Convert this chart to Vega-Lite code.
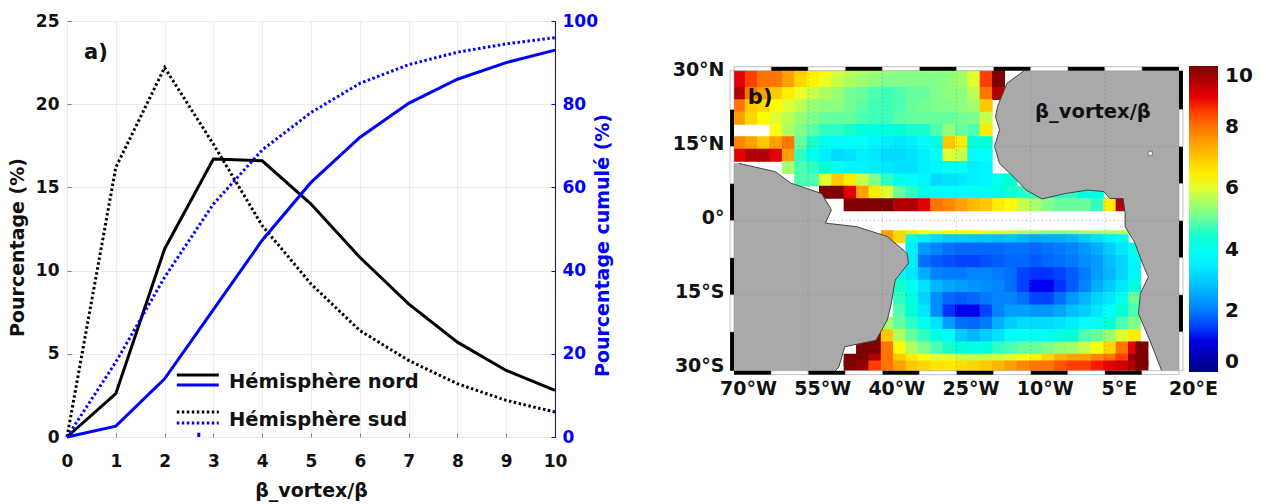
{"$schema":"https://vega.github.io/schema/vega-lite/v6.json","padding":{"left":7,"top":11,"right":0,"bottom":8},"background":"white","spacing":59,"config":{"font":"DejaVu Sans","view":{"stroke":null},"axis":{"labelFont":"DejaVu Sans","titleFont":"DejaVu Sans","labelFontWeight":"bold","titleFontWeight":"bold","labelFontSize":17,"titleFontSize":19,"labelColor":"#111","titleColor":"#111"}},
"datasets":{"lines":[
{"x":0,"n":0,"s":0,"cn":0,"cs":0},{"x":1,"n":2.6,"s":16.2,"cn":2.6,"cs":18},{"x":2,"n":11.3,"s":22.2,"cn":14,"cs":38.4},{"x":3,"n":16.7,"s":17.6,"cn":30.6,"cs":56},{"x":4,"n":16.6,"s":12.7,"cn":47.3,"cs":69},{"x":5,"n":14,"s":9.2,"cn":61.2,"cs":78},{"x":6,"n":10.8,"s":6.4,"cn":72,"cs":85},{"x":7,"n":8,"s":4.6,"cn":80.2,"cs":89.5},{"x":8,"n":5.7,"s":3.2,"cn":86,"cs":92.5},{"x":9,"n":4,"s":2.2,"cn":90,"cs":94.5},{"x":10,"n":2.8,"s":1.5,"cn":93,"cs":96}],
"coast":[{"lon":-11.25,"lat":30.4},{"lon":-14.8,"lat":27.8},{"lon":-16.7,"lat":23.1},{"lon":-17.1,"lat":21},{"lon":-16.3,"lat":18.4},{"lon":-17.3,"lat":15},{"lon":-16.3,"lat":11.6},{"lon":-13.2,"lat":8.6},{"lon":-10.9,"lat":6.2},{"lon":-7.7,"lat":4.4},{"lon":-3,"lat":5.5},{"lon":1.6,"lat":6.2},{"lon":4.8,"lat":5.9},{"lon":6,"lat":4.5},{"lon":8.7,"lat":4.5},{"lon":9.1,"lat":1.5},{"lon":9.1,"lat":-1.2},{"lon":11,"lat":-4.3},{"lon":12.6,"lat":-8.6},{"lon":13.8,"lat":-11.4},{"lon":12.2,"lat":-14.7},{"lon":11.8,"lat":-18.8},{"lon":14.1,"lat":-24.2},{"lon":16.5,"lat":-30.35}],
"afrN":[{"lon":-11.25,"lat":30.35,"e":20},{"lon":-14.8,"lat":27.8,"e":20},{"lon":-16.7,"lat":23.1,"e":20},{"lon":-17.1,"lat":21,"e":20},{"lon":-16.3,"lat":18.4,"e":20},{"lon":-17.3,"lat":15,"e":20},{"lon":-16.3,"lat":11.6,"e":20},{"lon":-13.2,"lat":8.6,"e":20},{"lon":-10.9,"lat":6.2,"e":20}],
"gulf":[{"lon":-10.9,"lat":6.2,"t":6.4},{"lon":-7.7,"lat":4.4,"t":6.4},{"lon":-3,"lat":5.5,"t":6.4},{"lon":1.6,"lat":6.2,"t":6.4},{"lon":4.8,"lat":5.9,"t":6.4},{"lon":6,"lat":4.5,"t":6.4},{"lon":8.7,"lat":4.5,"t":6.4}],
"afrS":[{"lon":8.7,"lat":6.4,"e":20},{"lon":8.7,"lat":4.5,"e":20},{"lon":9.1,"lat":1.5,"e":20},{"lon":9.1,"lat":-1.2,"e":20},{"lon":11,"lat":-4.3,"e":20},{"lon":12.6,"lat":-8.6,"e":20},{"lon":13.8,"lat":-11.4,"e":20},{"lon":12.2,"lat":-14.7,"e":20},{"lon":11.8,"lat":-18.8,"e":20},{"lon":14.1,"lat":-24.2,"e":20},{"lon":16.5,"lat":-30.35,"e":20}],
"sam":[{"lon":-69,"lat":11.6,"e":-70},{"lon":-61.6,"lat":9.9,"e":-70},{"lon":-58.5,"lat":7.6,"e":-70},{"lon":-52.3,"lat":5.5,"e":-70},{"lon":-50.3,"lat":2.2,"e":-70},{"lon":-51.5,"lat":-0.5,"e":-70},{"lon":-45.2,"lat":-1.2,"e":-70},{"lon":-39,"lat":-3.2,"e":-70},{"lon":-35,"lat":-6.6,"e":-70},{"lon":-34.7,"lat":-8.6,"e":-70},{"lon":-37.4,"lat":-12,"e":-70},{"lon":-38.2,"lat":-16.8,"e":-70},{"lon":-39,"lat":-20.1,"e":-70},{"lon":-41.3,"lat":-24.2,"e":-70},{"lon":-47.6,"lat":-25.5,"e":-70},{"lon":-48.8,"lat":-29.6,"e":-70},{"lon":-49.5,"lat":-30.35,"e":-70}],
"frame":[
{"k":"w","a":-70,"b":-62.5,"c":30.35,"d":31.15},{"k":"k","a":-62.5,"b":-55,"c":30.35,"d":31.15},{"k":"w","a":-55,"b":-47.5,"c":30.35,"d":31.15},{"k":"k","a":-47.5,"b":-40,"c":30.35,"d":31.15},{"k":"w","a":-40,"b":-32.5,"c":30.35,"d":31.15},{"k":"k","a":-32.5,"b":-25,"c":30.35,"d":31.15},{"k":"w","a":-25,"b":-17.5,"c":30.35,"d":31.15},{"k":"k","a":-17.5,"b":-10,"c":30.35,"d":31.15},{"k":"w","a":-10,"b":-2.5,"c":30.35,"d":31.15},{"k":"k","a":-2.5,"b":5,"c":30.35,"d":31.15},{"k":"w","a":5,"b":12.5,"c":30.35,"d":31.15},{"k":"k","a":12.5,"b":20,"c":30.35,"d":31.15},
{"k":"k","a":-70,"b":-62.5,"c":-31.15,"d":-30.35},{"k":"w","a":-62.5,"b":-55,"c":-31.15,"d":-30.35},{"k":"k","a":-55,"b":-47.5,"c":-31.15,"d":-30.35},{"k":"w","a":-47.5,"b":-40,"c":-31.15,"d":-30.35},{"k":"k","a":-40,"b":-32.5,"c":-31.15,"d":-30.35},{"k":"w","a":-32.5,"b":-25,"c":-31.15,"d":-30.35},{"k":"k","a":-25,"b":-17.5,"c":-31.15,"d":-30.35},{"k":"w","a":-17.5,"b":-10,"c":-31.15,"d":-30.35},{"k":"k","a":-10,"b":-2.5,"c":-31.15,"d":-30.35},{"k":"w","a":-2.5,"b":5,"c":-31.15,"d":-30.35},{"k":"k","a":5,"b":12.5,"c":-31.15,"d":-30.35},{"k":"w","a":12.5,"b":20,"c":-31.15,"d":-30.35},
{"k":"w","a":-70.8,"b":-70,"c":22.5,"d":30.35},{"k":"k","a":-70.8,"b":-70,"c":15,"d":22.5},{"k":"w","a":-70.8,"b":-70,"c":7.5,"d":15},{"k":"k","a":-70.8,"b":-70,"c":0,"d":7.5},{"k":"w","a":-70.8,"b":-70,"c":-7.5,"d":0},{"k":"k","a":-70.8,"b":-70,"c":-15,"d":-7.5},{"k":"w","a":-70.8,"b":-70,"c":-22.5,"d":-15},{"k":"k","a":-70.8,"b":-70,"c":-30.35,"d":-22.5},
{"k":"k","a":20,"b":20.8,"c":22.5,"d":30.35},{"k":"w","a":20,"b":20.8,"c":15,"d":22.5},{"k":"k","a":20,"b":20.8,"c":7.5,"d":15},{"k":"w","a":20,"b":20.8,"c":0,"d":7.5},{"k":"k","a":20,"b":20.8,"c":-7.5,"d":0},{"k":"w","a":20,"b":20.8,"c":-15,"d":-7.5},{"k":"k","a":20,"b":20.8,"c":-22.5,"d":-15},{"k":"w","a":20,"b":20.8,"c":-30.35,"d":-22.5}],
"heat":[
{"x":-69,"y":29.5,"v":9},{"x":-66.5,"y":29.5,"v":8.5},{"x":-64,"y":29.5,"v":8},{"x":-61.5,"y":29.5,"v":8},{"x":-59,"y":29.5,"v":7.5},{"x":-56.5,"y":29.5,"v":7},{"x":-54,"y":29.5,"v":6.5},{"x":-51.5,"y":29.5,"v":6.3},{"x":-49,"y":29.5,"v":6},{"x":-46.5,"y":29.5,"v":5.7},{"x":-44,"y":29.5,"v":5.6},{"x":-41.5,"y":29.5,"v":5.5},{"x":-39,"y":29.5,"v":5.4},{"x":-36.5,"y":29.5,"v":5.3},{"x":-34,"y":29.5,"v":5.3},{"x":-31.5,"y":29.5,"v":5.3},{"x":-29,"y":29.5,"v":5.3},{"x":-26.5,"y":29.5,"v":5.3},{"x":-24,"y":29.5,"v":5.5},{"x":-21.5,"y":29.5,"v":6},{"x":-19,"y":29.5,"v":8.5},{"x":-16.5,"y":29.5,"v":10},
{"x":-69,"y":28.25,"v":9},{"x":-66.5,"y":28.25,"v":8.5},{"x":-64,"y":28.25,"v":8},{"x":-61.5,"y":28.25,"v":8},{"x":-59,"y":28.25,"v":7.5},{"x":-56.5,"y":28.25,"v":6.8},{"x":-54,"y":28.25,"v":6.4},{"x":-51.5,"y":28.25,"v":6.1},{"x":-49,"y":28.25,"v":5.8},{"x":-46.5,"y":28.25,"v":5.6},{"x":-44,"y":28.25,"v":5.4},{"x":-41.5,"y":28.25,"v":5.3},{"x":-39,"y":28.25,"v":5.2},{"x":-36.5,"y":28.25,"v":5.2},{"x":-34,"y":28.25,"v":5.2},{"x":-31.5,"y":28.25,"v":5.2},{"x":-29,"y":28.25,"v":5.2},{"x":-26.5,"y":28.25,"v":5.3},{"x":-24,"y":28.25,"v":5.5},{"x":-21.5,"y":28.25,"v":6},{"x":-19,"y":28.25,"v":8.5},{"x":-16.5,"y":28.25,"v":10},
{"x":-69,"y":25.75,"v":9.5},{"x":-66.5,"y":25.75,"v":8},{"x":-64,"y":25.75,"v":7.5},{"x":-61.5,"y":25.75,"v":7},{"x":-59,"y":25.75,"v":6.5},{"x":-56.5,"y":25.75,"v":6.1},{"x":-54,"y":25.75,"v":5.8},{"x":-51.5,"y":25.75,"v":5.6},{"x":-49,"y":25.75,"v":5.4},{"x":-46.5,"y":25.75,"v":5.1},{"x":-44,"y":25.75,"v":5},{"x":-41.5,"y":25.75,"v":4.8},{"x":-39,"y":25.75,"v":4.7},{"x":-36.5,"y":25.75,"v":4.8},{"x":-34,"y":25.75,"v":5},{"x":-31.5,"y":25.75,"v":5},{"x":-29,"y":25.75,"v":5.2},{"x":-26.5,"y":25.75,"v":5.3},{"x":-24,"y":25.75,"v":5.3},{"x":-21.5,"y":25.75,"v":5.7},{"x":-19,"y":25.75,"v":8},{"x":-16.5,"y":25.75,"v":9.5},
{"x":-69,"y":23.25,"v":8},{"x":-66.5,"y":23.25,"v":7},{"x":-64,"y":23.25,"v":6.8},{"x":-61.5,"y":23.25,"v":6.3},{"x":-59,"y":23.25,"v":6},{"x":-56.5,"y":23.25,"v":5.7},{"x":-54,"y":23.25,"v":5.4},{"x":-51.5,"y":23.25,"v":5.3},{"x":-49,"y":23.25,"v":5.3},{"x":-46.5,"y":23.25,"v":5.1},{"x":-44,"y":23.25,"v":4.9},{"x":-41.5,"y":23.25,"v":4.7},{"x":-39,"y":23.25,"v":4.7},{"x":-36.5,"y":23.25,"v":4.8},{"x":-34,"y":23.25,"v":5},{"x":-31.5,"y":23.25,"v":5.1},{"x":-29,"y":23.25,"v":5.2},{"x":-26.5,"y":23.25,"v":5.2},{"x":-24,"y":23.25,"v":5.3},{"x":-21.5,"y":23.25,"v":5.5},{"x":-19,"y":23.25,"v":7},
{"x":-69,"y":20.75,"v":7.5},{"x":-66.5,"y":20.75,"v":6.8},{"x":-64,"y":20.75,"v":6.3},{"x":-61.5,"y":20.75,"v":6},{"x":-59,"y":20.75,"v":5.7},{"x":-56.5,"y":20.75,"v":5.4},{"x":-54,"y":20.75,"v":5.2},{"x":-51.5,"y":20.75,"v":5},{"x":-49,"y":20.75,"v":5},{"x":-46.5,"y":20.75,"v":5},{"x":-44,"y":20.75,"v":4.8},{"x":-41.5,"y":20.75,"v":4.7},{"x":-39,"y":20.75,"v":4.7},{"x":-36.5,"y":20.75,"v":4.9},{"x":-34,"y":20.75,"v":5},{"x":-31.5,"y":20.75,"v":5},{"x":-29,"y":20.75,"v":5},{"x":-26.5,"y":20.75,"v":5},{"x":-24,"y":20.75,"v":5.1},{"x":-21.5,"y":20.75,"v":5.2},{"x":-19,"y":20.75,"v":5.8},
{"x":-61.5,"y":18.25,"v":6.2},{"x":-59,"y":18.25,"v":5.6},{"x":-56.5,"y":18.25,"v":5.2},{"x":-54,"y":18.25,"v":4.9},{"x":-51.5,"y":18.25,"v":4.6},{"x":-49,"y":18.25,"v":4.6},{"x":-46.5,"y":18.25,"v":4.5},{"x":-44,"y":18.25,"v":4.3},{"x":-41.5,"y":18.25,"v":4.3},{"x":-39,"y":18.25,"v":4.3},{"x":-36.5,"y":18.25,"v":4.4},{"x":-34,"y":18.25,"v":4.5},{"x":-31.5,"y":18.25,"v":4.5},{"x":-29,"y":18.25,"v":4.8},{"x":-26.5,"y":18.25,"v":5.4},{"x":-24,"y":18.25,"v":5},{"x":-21.5,"y":18.25,"v":4.8},{"x":-19,"y":18.25,"v":6.5},
{"x":-69,"y":15.75,"v":7.8},{"x":-66.5,"y":15.75,"v":7.5},{"x":-64,"y":15.75,"v":7},{"x":-61.5,"y":15.75,"v":7.5},{"x":-59,"y":15.75,"v":8},{"x":-56.5,"y":15.75,"v":5},{"x":-54,"y":15.75,"v":4.5},{"x":-51.5,"y":15.75,"v":4},{"x":-49,"y":15.75,"v":3.7},{"x":-46.5,"y":15.75,"v":3.8},{"x":-44,"y":15.75,"v":3.8},{"x":-41.5,"y":15.75,"v":3.6},{"x":-39,"y":15.75,"v":3.5},{"x":-36.5,"y":15.75,"v":3.4},{"x":-34,"y":15.75,"v":3.5},{"x":-31.5,"y":15.75,"v":3.7},{"x":-29,"y":15.75,"v":4.2},{"x":-26.5,"y":15.75,"v":7},{"x":-24,"y":15.75,"v":6.5},{"x":-21.5,"y":15.75,"v":4.3},{"x":-19,"y":15.75,"v":4.3},
{"x":-69,"y":13.25,"v":9},{"x":-66.5,"y":13.25,"v":9.5},{"x":-64,"y":13.25,"v":9.5},{"x":-61.5,"y":13.25,"v":9},{"x":-59,"y":13.25,"v":7.5},{"x":-56.5,"y":13.25,"v":4.6},{"x":-54,"y":13.25,"v":4},{"x":-51.5,"y":13.25,"v":3.5},{"x":-49,"y":13.25,"v":3.2},{"x":-46.5,"y":13.25,"v":3.3},{"x":-44,"y":13.25,"v":3.5},{"x":-41.5,"y":13.25,"v":3.4},{"x":-39,"y":13.25,"v":3.2},{"x":-36.5,"y":13.25,"v":3.2},{"x":-34,"y":13.25,"v":3.3},{"x":-31.5,"y":13.25,"v":3.5},{"x":-29,"y":13.25,"v":3.8},{"x":-26.5,"y":13.25,"v":6},{"x":-24,"y":13.25,"v":5.8},{"x":-21.5,"y":13.25,"v":3.8},{"x":-19,"y":13.25,"v":3.8},
{"x":-59,"y":10.75,"v":5.5},{"x":-56.5,"y":10.75,"v":4.8},{"x":-54,"y":10.75,"v":4.6},{"x":-51.5,"y":10.75,"v":4.4},{"x":-49,"y":10.75,"v":4},{"x":-46.5,"y":10.75,"v":3.6},{"x":-44,"y":10.75,"v":3.6},{"x":-41.5,"y":10.75,"v":3.5},{"x":-39,"y":10.75,"v":3.4},{"x":-36.5,"y":10.75,"v":3.3},{"x":-34,"y":10.75,"v":3.3},{"x":-31.5,"y":10.75,"v":3.5},{"x":-29,"y":10.75,"v":3.6},{"x":-26.5,"y":10.75,"v":4},{"x":-24,"y":10.75,"v":3.9},{"x":-21.5,"y":10.75,"v":3.5},{"x":-19,"y":10.75,"v":3.6},
{"x":-56.5,"y":8.25,"v":4.8},{"x":-54,"y":8.25,"v":4.8},{"x":-51.5,"y":8.25,"v":6},{"x":-49,"y":8.25,"v":7},{"x":-46.5,"y":8.25,"v":6.5},{"x":-44,"y":8.25,"v":5.8},{"x":-41.5,"y":8.25,"v":5.2},{"x":-39,"y":8.25,"v":4.6},{"x":-36.5,"y":8.25,"v":4},{"x":-34,"y":8.25,"v":3.7},{"x":-31.5,"y":8.25,"v":3.6},{"x":-29,"y":8.25,"v":3.2},{"x":-26.5,"y":8.25,"v":3.3},{"x":-24,"y":8.25,"v":3.4},{"x":-21.5,"y":8.25,"v":3.5},{"x":-19,"y":8.25,"v":3.6},{"x":-16.5,"y":8.25,"v":4},{"x":-14,"y":8.25,"v":4.4},
{"x":-51.5,"y":5.75,"v":10},{"x":-49,"y":5.75,"v":10},{"x":-46.5,"y":5.75,"v":9},{"x":-44,"y":5.75,"v":7.5},{"x":-41.5,"y":5.75,"v":6.5},{"x":-39,"y":5.75,"v":6},{"x":-36.5,"y":5.75,"v":5},{"x":-34,"y":5.75,"v":4.6},{"x":-31.5,"y":5.75,"v":4.2},{"x":-29,"y":5.75,"v":4},{"x":-26.5,"y":5.75,"v":3.8},{"x":-24,"y":5.75,"v":3.8},{"x":-21.5,"y":5.75,"v":4},{"x":-19,"y":5.75,"v":4},{"x":-16.5,"y":5.75,"v":4.3},{"x":-14,"y":5.75,"v":4.5},{"x":-11.5,"y":5.75,"v":4.6},{"x":-9,"y":5.75,"v":4.6},{"x":-6.5,"y":5.75,"v":4.6},{"x":-4,"y":5.75,"v":4.6},{"x":-1.5,"y":5.75,"v":4.6},{"x":1,"y":5.75,"v":4.2},{"x":3.5,"y":5.75,"v":4.2},
{"x":-46.5,"y":3.25,"v":10},{"x":-44,"y":3.25,"v":10},{"x":-41.5,"y":3.25,"v":10},{"x":-39,"y":3.25,"v":10},{"x":-36.5,"y":3.25,"v":9.5},{"x":-34,"y":3.25,"v":9.5},{"x":-31.5,"y":3.25,"v":9},{"x":-29,"y":3.25,"v":8},{"x":-26.5,"y":3.25,"v":7.8},{"x":-24,"y":3.25,"v":7.5},{"x":-21.5,"y":3.25,"v":7.2},{"x":-19,"y":3.25,"v":7},{"x":-16.5,"y":3.25,"v":6.5},{"x":-14,"y":3.25,"v":6.3},{"x":-11.5,"y":3.25,"v":5.8},{"x":-9,"y":3.25,"v":5.5},{"x":-6.5,"y":3.25,"v":5.2},{"x":-4,"y":3.25,"v":5},{"x":-1.5,"y":3.25,"v":5},{"x":1,"y":3.25,"v":5},{"x":3.5,"y":3.25,"v":4.6},{"x":6,"y":3.25,"v":6.5},{"x":8.5,"y":3.25,"v":9.5},
{"x":-39,"y":-3.25,"v":7.5},{"x":-36.5,"y":-3.25,"v":6.8},{"x":-34,"y":-3.25,"v":6.5},{"x":-31.5,"y":-3.25,"v":6.2},{"x":-29,"y":-3.25,"v":6},{"x":-26.5,"y":-3.25,"v":6.4},{"x":-24,"y":-3.25,"v":6.3},{"x":-21.5,"y":-3.25,"v":6.3},{"x":-19,"y":-3.25,"v":6},{"x":-16.5,"y":-3.25,"v":6},{"x":-14,"y":-3.25,"v":5.8},{"x":-11.5,"y":-3.25,"v":5.6},{"x":-9,"y":-3.25,"v":5.5},{"x":-6.5,"y":-3.25,"v":5.3},{"x":-4,"y":-3.25,"v":5.3},{"x":-1.5,"y":-3.25,"v":5.3},{"x":1,"y":-3.25,"v":5.5},{"x":3.5,"y":-3.25,"v":5.5},{"x":6,"y":-3.25,"v":5.5},{"x":8.5,"y":-3.25,"v":5.6},
{"x":-34,"y":-4.05,"v":4},{"x":-31.5,"y":-4.05,"v":3.5},{"x":-29,"y":-4.05,"v":3.2},{"x":-26.5,"y":-4.05,"v":3},{"x":-24,"y":-4.05,"v":3},{"x":-21.5,"y":-4.05,"v":2.9},{"x":-19,"y":-4.05,"v":2.9},{"x":-16.5,"y":-4.05,"v":2.8},{"x":-14,"y":-4.05,"v":2.9},{"x":-11.5,"y":-4.05,"v":2.7},{"x":-9,"y":-4.05,"v":2.5},{"x":-6.5,"y":-4.05,"v":2.6},{"x":-4,"y":-4.05,"v":2.6},{"x":-1.5,"y":-4.05,"v":2.7},{"x":1,"y":-4.05,"v":3},{"x":3.5,"y":-4.05,"v":3.3},{"x":6,"y":-4.05,"v":3.6},{"x":8.5,"y":-4.05,"v":4},
{"x":-34,"y":-5.75,"v":3.5},{"x":-31.5,"y":-5.75,"v":2.3},{"x":-29,"y":-5.75,"v":2.1},{"x":-26.5,"y":-5.75,"v":1.9},{"x":-24,"y":-5.75,"v":1.8},{"x":-21.5,"y":-5.75,"v":1.8},{"x":-19,"y":-5.75,"v":1.8},{"x":-16.5,"y":-5.75,"v":1.8},{"x":-14,"y":-5.75,"v":1.9},{"x":-11.5,"y":-5.75,"v":1.9},{"x":-9,"y":-5.75,"v":1.8},{"x":-6.5,"y":-5.75,"v":1.9},{"x":-4,"y":-5.75,"v":2},{"x":-1.5,"y":-5.75,"v":2.1},{"x":1,"y":-5.75,"v":2.3},{"x":3.5,"y":-5.75,"v":2.6},{"x":6,"y":-5.75,"v":3},{"x":8.5,"y":-5.75,"v":3.4},{"x":11,"y":-5.75,"v":4},
{"x":-34,"y":-8.25,"v":3.5},{"x":-31.5,"y":-8.25,"v":1.9},{"x":-29,"y":-8.25,"v":1.7},{"x":-26.5,"y":-8.25,"v":1.6},{"x":-24,"y":-8.25,"v":1.5},{"x":-21.5,"y":-8.25,"v":1.5},{"x":-19,"y":-8.25,"v":1.6},{"x":-16.5,"y":-8.25,"v":1.7},{"x":-14,"y":-8.25,"v":1.8},{"x":-11.5,"y":-8.25,"v":1.8},{"x":-9,"y":-8.25,"v":1.7},{"x":-6.5,"y":-8.25,"v":1.8},{"x":-4,"y":-8.25,"v":1.9},{"x":-1.5,"y":-8.25,"v":2},{"x":1,"y":-8.25,"v":2.2},{"x":3.5,"y":-8.25,"v":2.4},{"x":6,"y":-8.25,"v":2.8},{"x":8.5,"y":-8.25,"v":3.1},{"x":11,"y":-8.25,"v":3.6},
{"x":-36.5,"y":-10.75,"v":4},{"x":-34,"y":-10.75,"v":3.4},{"x":-31.5,"y":-10.75,"v":2.6},{"x":-29,"y":-10.75,"v":2.1},{"x":-26.5,"y":-10.75,"v":2},{"x":-24,"y":-10.75,"v":2},{"x":-21.5,"y":-10.75,"v":2.1},{"x":-19,"y":-10.75,"v":2.1},{"x":-16.5,"y":-10.75,"v":2},{"x":-14,"y":-10.75,"v":1.9},{"x":-11.5,"y":-10.75,"v":1.5},{"x":-9,"y":-10.75,"v":1.4},{"x":-6.5,"y":-10.75,"v":1.4},{"x":-4,"y":-10.75,"v":1.5},{"x":-1.5,"y":-10.75,"v":1.7},{"x":1,"y":-10.75,"v":2},{"x":3.5,"y":-10.75,"v":2.4},{"x":6,"y":-10.75,"v":2.7},{"x":8.5,"y":-10.75,"v":3.1},{"x":11,"y":-10.75,"v":3.6},
{"x":-36.5,"y":-13.25,"v":4.5},{"x":-34,"y":-13.25,"v":4},{"x":-31.5,"y":-13.25,"v":3.3},{"x":-29,"y":-13.25,"v":2.7},{"x":-26.5,"y":-13.25,"v":2.5},{"x":-24,"y":-13.25,"v":2.4},{"x":-21.5,"y":-13.25,"v":2.3},{"x":-19,"y":-13.25,"v":2.2},{"x":-16.5,"y":-13.25,"v":2.1},{"x":-14,"y":-13.25,"v":1.9},{"x":-11.5,"y":-13.25,"v":1.5},{"x":-9,"y":-13.25,"v":1.2},{"x":-6.5,"y":-13.25,"v":1.1},{"x":-4,"y":-13.25,"v":1.4},{"x":-1.5,"y":-13.25,"v":1.7},{"x":1,"y":-13.25,"v":2.1},{"x":3.5,"y":-13.25,"v":2.6},{"x":6,"y":-13.25,"v":3},{"x":8.5,"y":-13.25,"v":3.4},{"x":11,"y":-13.25,"v":4.3},
{"x":-36.5,"y":-15.75,"v":4.6},{"x":-34,"y":-15.75,"v":4.2},{"x":-31.5,"y":-15.75,"v":3.1},{"x":-29,"y":-15.75,"v":2.2},{"x":-26.5,"y":-15.75,"v":1.8},{"x":-24,"y":-15.75,"v":1.7},{"x":-21.5,"y":-15.75,"v":1.8},{"x":-19,"y":-15.75,"v":2},{"x":-16.5,"y":-15.75,"v":2.1},{"x":-14,"y":-15.75,"v":2.1},{"x":-11.5,"y":-15.75,"v":1.9},{"x":-9,"y":-15.75,"v":1.5},{"x":-6.5,"y":-15.75,"v":1.5},{"x":-4,"y":-15.75,"v":1.9},{"x":-1.5,"y":-15.75,"v":2.3},{"x":1,"y":-15.75,"v":2.7},{"x":3.5,"y":-15.75,"v":3.1},{"x":6,"y":-15.75,"v":3.4},{"x":8.5,"y":-15.75,"v":4},{"x":11,"y":-15.75,"v":5},
{"x":-36.5,"y":-18.25,"v":4.8},{"x":-34,"y":-18.25,"v":4.4},{"x":-31.5,"y":-18.25,"v":3.4},{"x":-29,"y":-18.25,"v":2.2},{"x":-26.5,"y":-18.25,"v":1.4},{"x":-24,"y":-18.25,"v":1.1},{"x":-21.5,"y":-18.25,"v":1.1},{"x":-19,"y":-18.25,"v":1.5},{"x":-16.5,"y":-18.25,"v":2.1},{"x":-14,"y":-18.25,"v":2.4},{"x":-11.5,"y":-18.25,"v":2.4},{"x":-9,"y":-18.25,"v":2.3},{"x":-6.5,"y":-18.25,"v":2.3},{"x":-4,"y":-18.25,"v":2.5},{"x":-1.5,"y":-18.25,"v":2.8},{"x":1,"y":-18.25,"v":3},{"x":3.5,"y":-18.25,"v":3.4},{"x":6,"y":-18.25,"v":3.8},{"x":8.5,"y":-18.25,"v":4.4},{"x":11,"y":-18.25,"v":4.8},
{"x":-39,"y":-20.75,"v":5.5},{"x":-36.5,"y":-20.75,"v":5},{"x":-34,"y":-20.75,"v":4.6},{"x":-31.5,"y":-20.75,"v":4},{"x":-29,"y":-20.75,"v":3.3},{"x":-26.5,"y":-20.75,"v":2.4},{"x":-24,"y":-20.75,"v":1.9},{"x":-21.5,"y":-20.75,"v":1.8},{"x":-19,"y":-20.75,"v":2},{"x":-16.5,"y":-20.75,"v":2.6},{"x":-14,"y":-20.75,"v":3},{"x":-11.5,"y":-20.75,"v":3.2},{"x":-9,"y":-20.75,"v":3.2},{"x":-6.5,"y":-20.75,"v":3.2},{"x":-4,"y":-20.75,"v":3.3},{"x":-1.5,"y":-20.75,"v":3.5},{"x":1,"y":-20.75,"v":3.7},{"x":3.5,"y":-20.75,"v":4},{"x":6,"y":-20.75,"v":4.4},{"x":8.5,"y":-20.75,"v":4.8},{"x":11,"y":-20.75,"v":5.2},
{"x":-41.5,"y":-23.25,"v":10},{"x":-39,"y":-23.25,"v":7},{"x":-36.5,"y":-23.25,"v":5.6},{"x":-34,"y":-23.25,"v":5},{"x":-31.5,"y":-23.25,"v":4.6},{"x":-29,"y":-23.25,"v":4.2},{"x":-26.5,"y":-23.25,"v":3.7},{"x":-24,"y":-23.25,"v":3},{"x":-21.5,"y":-23.25,"v":2.7},{"x":-19,"y":-23.25,"v":3},{"x":-16.5,"y":-23.25,"v":3.3},{"x":-14,"y":-23.25,"v":3.7},{"x":-11.5,"y":-23.25,"v":3.9},{"x":-9,"y":-23.25,"v":4},{"x":-6.5,"y":-23.25,"v":4},{"x":-4,"y":-23.25,"v":4.2},{"x":-1.5,"y":-23.25,"v":4.4},{"x":1,"y":-23.25,"v":4.8},{"x":3.5,"y":-23.25,"v":5},{"x":6,"y":-23.25,"v":5.4},{"x":8.5,"y":-23.25,"v":6},{"x":11,"y":-23.25,"v":6.5},
{"x":-44,"y":-25.75,"v":10},{"x":-41.5,"y":-25.75,"v":10},{"x":-39,"y":-25.75,"v":8},{"x":-36.5,"y":-25.75,"v":6.3},{"x":-34,"y":-25.75,"v":5.6},{"x":-31.5,"y":-25.75,"v":5.2},{"x":-29,"y":-25.75,"v":4.8},{"x":-26.5,"y":-25.75,"v":4.5},{"x":-24,"y":-25.75,"v":4.3},{"x":-21.5,"y":-25.75,"v":4.2},{"x":-19,"y":-25.75,"v":4.3},{"x":-16.5,"y":-25.75,"v":4.6},{"x":-14,"y":-25.75,"v":4.8},{"x":-11.5,"y":-25.75,"v":5},{"x":-9,"y":-25.75,"v":5},{"x":-6.5,"y":-25.75,"v":5.2},{"x":-4,"y":-25.75,"v":5.4},{"x":-1.5,"y":-25.75,"v":5.5},{"x":1,"y":-25.75,"v":5.8},{"x":3.5,"y":-25.75,"v":6.2},{"x":6,"y":-25.75,"v":6.8},{"x":8.5,"y":-25.75,"v":8},{"x":11,"y":-25.75,"v":9},{"x":12.5,"y":-25.75,"v":10},
{"x":-46.5,"y":-28.25,"v":10},{"x":-44,"y":-28.25,"v":10},{"x":-41.5,"y":-28.25,"v":9.5},{"x":-39,"y":-28.25,"v":8},{"x":-36.5,"y":-28.25,"v":7},{"x":-34,"y":-28.25,"v":6.5},{"x":-31.5,"y":-28.25,"v":6.2},{"x":-29,"y":-28.25,"v":6},{"x":-26.5,"y":-28.25,"v":6},{"x":-24,"y":-28.25,"v":5.8},{"x":-21.5,"y":-28.25,"v":5.7},{"x":-19,"y":-28.25,"v":5.8},{"x":-16.5,"y":-28.25,"v":5.9},{"x":-14,"y":-28.25,"v":6},{"x":-11.5,"y":-28.25,"v":6.2},{"x":-9,"y":-28.25,"v":6.4},{"x":-6.5,"y":-28.25,"v":6.8},{"x":-4,"y":-28.25,"v":7.3},{"x":-1.5,"y":-28.25,"v":7.5},{"x":1,"y":-28.25,"v":7.5},{"x":3.5,"y":-28.25,"v":7.8},{"x":6,"y":-28.25,"v":8},{"x":8.5,"y":-28.25,"v":8.5},{"x":11,"y":-28.25,"v":9.8},{"x":12.5,"y":-28.25,"v":10},
{"x":-46.5,"y":-29.6,"v":10},{"x":-44,"y":-29.6,"v":9.8},{"x":-41.5,"y":-29.6,"v":8.5},{"x":-39,"y":-29.6,"v":8},{"x":-36.5,"y":-29.6,"v":7.5},{"x":-34,"y":-29.6,"v":7},{"x":-31.5,"y":-29.6,"v":6.8},{"x":-29,"y":-29.6,"v":6.6},{"x":-26.5,"y":-29.6,"v":6.6},{"x":-24,"y":-29.6,"v":6.7},{"x":-21.5,"y":-29.6,"v":6.8},{"x":-19,"y":-29.6,"v":7},{"x":-16.5,"y":-29.6,"v":7.2},{"x":-14,"y":-29.6,"v":7.5},{"x":-11.5,"y":-29.6,"v":7.8},{"x":-9,"y":-29.6,"v":8},{"x":-6.5,"y":-29.6,"v":8},{"x":-4,"y":-29.6,"v":8.3},{"x":-1.5,"y":-29.6,"v":8.5},{"x":1,"y":-29.6,"v":8.5},{"x":3.5,"y":-29.6,"v":8.7},{"x":6,"y":-29.6,"v":9},{"x":8.5,"y":-29.6,"v":9.2},{"x":11,"y":-29.6,"v":9.5},{"x":12.5,"y":-29.6,"v":10}]},
"hconcat":[
{"width":488,"height":416,"view":{"stroke":"#808080"},"resolve":{"scale":{"y":"independent"}},"layer":[
{"layer":[
{"data":{"name":"lines"},"mark":{"type":"line","color":"black","strokeWidth":3},"encoding":{"x":{"field":"x","type":"quantitative","scale":{"domain":[0,10],"nice":false},"axis":{"values":[0,1,2,3,4,5,6,7,8,9,10],"title":"β_vortex/β","grid":true,"gridColor":"#ececec","domain":false,"tickSize":-4,"tickColor":"#808080","labelPadding":20,"titlePadding":12,"labelFlush":false,"format":"d"}},"y":{"field":"n","type":"quantitative","scale":{"domain":[0,25],"nice":false},"axis":{"values":[0,5,10,15,20,25],"title":"Pourcentage (%)","titleX":-40,"titleY":226,"grid":true,"gridColor":"#ececec","domain":false,"tickSize":-4,"tickColor":"#808080","labelPadding":12}}}},
{"data":{"name":"lines"},"mark":{"type":"line","color":"black","strokeWidth":3,"strokeDash":[2.5,2.5]},"encoding":{"x":{"field":"x","type":"quantitative","scale":{"domain":[0,10],"nice":false}},"y":{"field":"s","type":"quantitative","scale":{"domain":[0,25],"nice":false}}}},
{"data":{"values":[{"x":2.25,"y":3.73,"c":"noir","t":"nord"},{"x":3.11,"y":3.73,"c":"noir","t":"nord"},{"x":2.25,"y":3.13,"c":"bleu","t":"nord"},{"x":3.11,"y":3.13,"c":"bleu","t":"nord"},{"x":2.25,"y":1.5,"c":"noir","t":"sud"},{"x":3.11,"y":1.5,"c":"noir","t":"sud"},{"x":2.25,"y":0.84,"c":"bleu","t":"sud"},{"x":3.11,"y":0.84,"c":"bleu","t":"sud"},{"x":2.7,"y":0,"c":"bleu","t":"tick"},{"x":2.7,"y":0.25,"c":"bleu","t":"tick"}]},"mark":{"type":"line","strokeWidth":3},"encoding":{"x":{"field":"x","type":"quantitative","scale":{"domain":[0,10],"nice":false}},"y":{"field":"y","type":"quantitative","scale":{"domain":[0,25],"nice":false}},"color":{"field":"c","type":"nominal","scale":{"domain":["noir","bleu"],"range":["black","#0000ff"]},"legend":null},"strokeDash":{"field":"t","type":"nominal","scale":{"domain":["nord","sud","tick"],"range":[[1,0],[2.5,2.5],[1,0]]},"legend":null}}},
{"data":{"values":[{"x":3.32,"y":3.3,"l":"Hémisphère nord"},{"x":3.32,"y":1.05,"l":"Hémisphère sud"}]},"mark":{"type":"text","align":"left","baseline":"middle","fontWeight":"bold","fontSize":19.5,"font":"DejaVu Sans","color":"#111"},"encoding":{"x":{"field":"x","type":"quantitative","scale":{"domain":[0,10],"nice":false}},"y":{"field":"y","type":"quantitative","scale":{"domain":[0,25],"nice":false}},"text":{"field":"l"}}},
{"data":{"values":[{"x":0.35,"y":23.1,"l":"a)"}]},"mark":{"type":"text","align":"left","baseline":"middle","fontWeight":"bold","fontSize":21,"font":"DejaVu Sans","color":"#111"},"encoding":{"x":{"field":"x","type":"quantitative","scale":{"domain":[0,10],"nice":false}},"y":{"field":"y","type":"quantitative","scale":{"domain":[0,25],"nice":false}},"text":{"field":"l"}}}
]},
{"layer":[
{"data":{"name":"lines"},"mark":{"type":"line","color":"#0000ff","strokeWidth":3},"encoding":{"x":{"field":"x","type":"quantitative","scale":{"domain":[0,10],"nice":false}},"y":{"field":"cn","type":"quantitative","scale":{"domain":[0,100],"nice":false},"axis":{"orient":"right","values":[0,20,40,60,80,100],"title":"Pourcentage cumulé (%)","titleAngle":270,"titleX":57,"titleY":224,"titleColor":"#0000ff","labelColor":"#0000ff","domainColor":"#0000ff","tickColor":"#0000ff","tickSize":-4,"labelPadding":11,"grid":false}}}},
{"data":{"name":"lines"},"mark":{"type":"line","color":"#0000ff","strokeWidth":3,"strokeDash":[2.5,2.5]},"encoding":{"x":{"field":"x","type":"quantitative","scale":{"domain":[0,10],"nice":false}},"y":{"field":"cs","type":"quantitative","scale":{"domain":[0,100],"nice":false}}}}
]}
]},
{"width":445,"height":349.7,"layer":[
{"data":{"name":"heat"},"mark":{"type":"rect","width":13,"height":13,"clip":true},"encoding":{"x":{"field":"x","type":"quantitative","scale":{"domain":[-70,20],"nice":false},"axis":{"values":[-70,-55,-40,-25,-10,5,20],"title":null,"grid":false,"domain":false,"ticks":false,"labelExpr":"abs(datum.value)+'°'+(datum.value<0?'W':'E')","labelFontSize":19,"labelPadding":9,"labelOffset":14,"labelFlush":false}},"y":{"field":"y","type":"quantitative","scale":{"domain":[-30.35,30.35],"range":[349.7,49.7],"nice":false},"axis":{"values":[-30,-15,0,15,30],"title":null,"grid":false,"domain":false,"ticks":false,"labelExpr":"datum.value==0?'0°':abs(datum.value)+'°'+(datum.value<0?'S':'N')","labelFontSize":19,"labelPadding":10,"labelOffset":-3}},"color":{"field":"v","type":"quantitative","scale":{"domain":[0,1.25,3.75,6.25,8.75,10],"range":["#00007f","#0000ff","#00ffff","#ffff00","#ff0000","#7f0000"]},"legend":{"orient":"none","legendX":455,"legendY":45,"title":null,"direction":"vertical","gradientLength":306,"gradientThickness":29,"values":[0,2,4,6,8,10],"labelFont":"DejaVu Sans","labelFontWeight":"bold","labelFontSize":20,"labelOffset":7,"labelColor":"#111","labelOverlap":false}}}},
{"data":{"name":"afrN"},"mark":{"type":"area","orient":"horizontal","color":"#a9a9a9"},"encoding":{"y":{"field":"lat","type":"quantitative"},"x":{"field":"lon","type":"quantitative"},"x2":{"field":"e"}}},
{"data":{"name":"afrS"},"mark":{"type":"area","orient":"horizontal","color":"#a9a9a9"},"encoding":{"y":{"field":"lat","type":"quantitative"},"x":{"field":"lon","type":"quantitative"},"x2":{"field":"e"}}},
{"data":{"name":"gulf"},"mark":{"type":"area","orient":"vertical","color":"#a9a9a9"},"encoding":{"x":{"field":"lon","type":"quantitative"},"y":{"field":"lat","type":"quantitative"},"y2":{"field":"t"}}},
{"data":{"name":"sam"},"mark":{"type":"area","orient":"horizontal","color":"#a9a9a9"},"encoding":{"y":{"field":"lat","type":"quantitative"},"x":{"field":"lon","type":"quantitative"},"x2":{"field":"e"}}},
{"data":{"name":"coast"},"mark":{"type":"line","color":"#444","strokeWidth":1,"order":false},"encoding":{"y":{"field":"lat","type":"quantitative"},"x":{"field":"lon","type":"quantitative"}}},
{"data":{"name":"sam"},"mark":{"type":"line","color":"#444","strokeWidth":1,"order":false},"encoding":{"y":{"field":"lat","type":"quantitative"},"x":{"field":"lon","type":"quantitative"}}},
{"data":{"values":[{"lon":14.2,"lat":13.6}]},"mark":{"type":"point","shape":"square","filled":true,"fill":"white","stroke":"#444","strokeWidth":0.7,"size":18},"encoding":{"x":{"field":"lon","type":"quantitative"},"y":{"field":"lat","type":"quantitative"}}},
{"data":{"values":[{"lon":-55,"a":-30.35,"b":30.35},{"lon":-40,"a":-30.35,"b":30.35},{"lon":-25,"a":-30.35,"b":30.35},{"lon":-10,"a":-30.35,"b":30.35},{"lon":5,"a":-30.35,"b":30.35}]},"mark":{"type":"rule","color":"#666","strokeWidth":0.7,"strokeDash":[1,3],"opacity":0.7},"encoding":{"x":{"field":"lon","type":"quantitative"},"y":{"field":"a","type":"quantitative"},"y2":{"field":"b"}}},
{"data":{"values":[{"lat":-15,"a":-70,"b":20},{"lat":0,"a":-70,"b":20},{"lat":15,"a":-70,"b":20}]},"mark":{"type":"rule","color":"#666","strokeWidth":0.7,"strokeDash":[1,3],"opacity":0.7},"encoding":{"y":{"field":"lat","type":"quantitative"},"x":{"field":"a","type":"quantitative"},"x2":{"field":"b"}}},
{"data":{"name":"frame"},"transform":[{"filter":"datum.k=='k'"}],"mark":{"type":"rect","color":"black"},"encoding":{"x":{"field":"a","type":"quantitative"},"x2":{"field":"b"},"y":{"field":"c","type":"quantitative"},"y2":{"field":"d"}}},
{"data":{"name":"frame"},"transform":[{"filter":"datum.k=='w'"}],"mark":{"type":"rect","fill":"white","stroke":"#999","strokeWidth":0.6},"encoding":{"x":{"field":"a","type":"quantitative"},"x2":{"field":"b"},"y":{"field":"c","type":"quantitative"},"y2":{"field":"d"}}},
{"data":{"values":[{"lon":-9.1,"lat":21.9,"l":"β_vortex/β"}]},"mark":{"type":"text","align":"left","baseline":"middle","fontWeight":"bold","fontSize":19.5,"font":"DejaVu Sans","color":"#111"},"encoding":{"x":{"field":"lon","type":"quantitative"},"y":{"field":"lat","type":"quantitative"},"text":{"field":"l"}}},
{"data":{"values":[{"lon":-67.2,"lat":24.8,"l":"b)"}]},"mark":{"type":"text","align":"left","baseline":"middle","fontWeight":"bold","fontSize":21,"font":"DejaVu Sans","color":"#111"},"encoding":{"x":{"field":"lon","type":"quantitative"},"y":{"field":"lat","type":"quantitative"},"text":{"field":"l"}}}
]}
]}
